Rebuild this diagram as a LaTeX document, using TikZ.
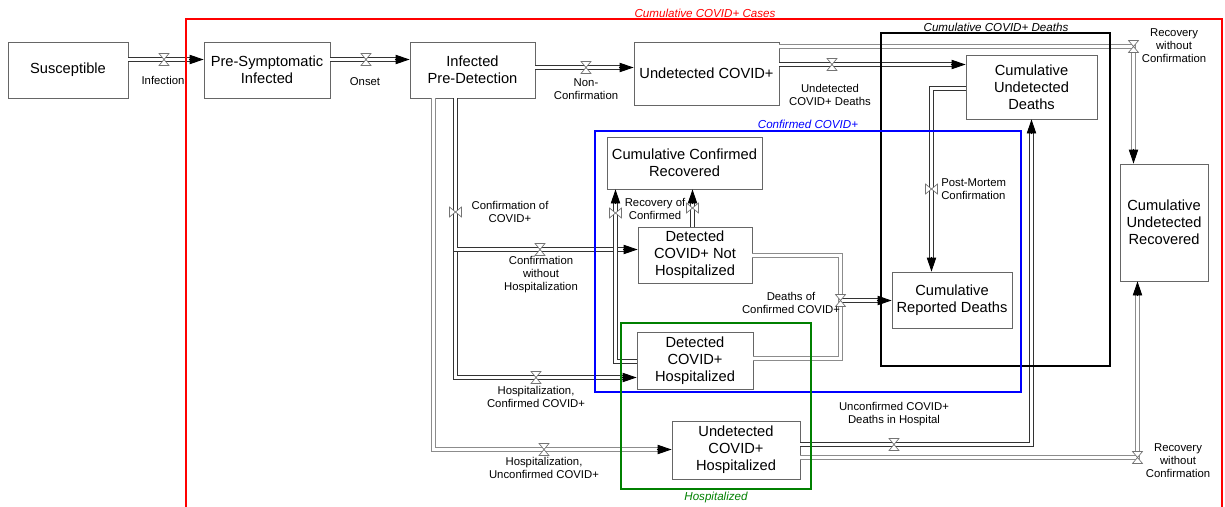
\documentclass[tikz,border=0pt]{standalone}
\usepackage{fontspec}
\setmainfont{Liberation Sans}
\usetikzlibrary{calc,arrows.meta}
\begin{document}
\begin{tikzpicture}[x=0.75pt,y=-0.75pt,
  box/.style={draw=black!60, line width=0.6pt, fill=white, align=center, inner sep=0pt, font=\fontsize{11}{12.75}\selectfont},
  lab/.style={align=center, inner sep=0pt, font=\fontsize{8.5}{9.75}\selectfont},
  grp/.style={inner sep=0pt, font=\fontsize{8.7}{10}\selectfont\itshape},
  pipe/.style={draw=black!80, double=white, double distance=2.25pt, line width=0.75pt, line join=miter},
  gpipe/.style={pipe, draw=black!45},
  pipeA/.style={pipe, shorten >=6pt},
  gpipeA/.style={gpipe, shorten >=6pt},
  tip/.style={-{Triangle[length=10.5pt,width=7pt]}, line width=0.6pt, draw=black},
  valve/.style={draw=black!55, fill=white, line width=0.5pt},
  hvalve/.pic={\draw[valve] (-5,-6) -- (5,-6) -- (-5,6) -- (5,6) -- cycle;},
  vvalve/.pic={\draw[valve] (-6,-5) -- (-6,5) -- (6,-5) -- (6,5) -- cycle;}
]
\useasboundingbox (0,0) rectangle (1225,507);

% stocks
\node[box, minimum width=90pt, minimum height=42pt] (sus) at (68,70) {Susceptible};
\node[box, minimum width=94.5pt, minimum height=42pt] (psi) at (267,70) {Pre-Symptomatic\\Infected};
\node[box, minimum width=93.75pt, minimum height=42pt] (ipd) at (472.5,70) {Infected\\Pre-Detection};
\node[box, minimum width=108.75pt, minimum height=47.25pt] (ucv) at (706.5,73.5) {Undetected COVID+};
\node[box, minimum width=98.25pt, minimum height=48pt] (cud) at (1031.5,87) {Cumulative\\Undetected\\Deaths};
\node[box, minimum width=66pt, minimum height=87.75pt] (cur) at (1164,222.5) {Cumulative\\Undetected\\Recovered};
\node[box, minimum width=90pt, minimum height=42pt] (crd) at (952,300) {Cumulative\\Reported Deaths};
\node[box, minimum width=116.25pt, minimum height=39pt] (ccr) at (684.5,163) {Cumulative Confirmed\\Recovered};
\node[box, minimum width=85.5pt, minimum height=42pt] (dcnh) at (695,255) {Detected\\COVID+ Not\\Hospitalized};
\node[box, minimum width=87pt, minimum height=42.75pt] (dch) at (695,360.5) {Detected\\COVID+\\Hospitalized};
\node[box, minimum width=96pt, minimum height=43.5pt] (uch) at (736,450) {Undetected\\COVID+\\Hospitalized};

% helper coordinates
\coordinate (rc1) at ($(cur.north)+(-30.5,0)$);
\coordinate (rc2) at ($(cur.south)+(-26.5,0)$);
\coordinate (dj) at (840.5,300.5);

% flows
\draw[pipeA] ($(sus.east)+(0,-10.5)$) -- ($(psi.west)+(0,-10.5)$);
\draw[tip] ($(psi.west)+(-15,-10.5)$) -- ($(psi.west)+(0,-10.5)$);
\draw[pipeA] ($(psi.east)+(0,-10.5)$) -- ($(ipd.west)+(0,-10.5)$);
\draw[tip] ($(ipd.west)+(-15,-10.5)$) -- ($(ipd.west)+(0,-10.5)$);
\draw[pipeA] ($(ipd.east)+(0,-2.5)$) -- ($(ucv.west)+(0,-6)$);
\draw[tip] ($(ucv.west)+(-15,-6)$) -- ($(ucv.west)+(0,-6)$);
\draw[pipeA] ($(ucv.east)+(0,-9)$) -- ($(cud.west)+(0,-22.5)$);
\draw[tip] ($(cud.west)+(-15,-22.5)$) -- ($(cud.west)+(0,-22.5)$);
\draw[gpipeA] ($(ucv.east)+(0,-27)$) -| (rc1);
\draw[tip] ($(rc1)+(0,-15)$) -- (rc1);

% from infected pre-detection downward
\draw[gpipeA] ($(ipd.south)+(-39,0)$) |- ($(uch.west)+(0,-0.5)$);
\draw[tip] ($(uch.west)+(-15,-0.5)$) -- ($(uch.west)+(0,-0.5)$);
\draw[pipeA] ($(ipd.south)+(-17,0)$) |- ($(dch.west)+(0,17)$);
\draw[tip] ($(dch.west)+(-15,17)$) -- ($(dch.west)+(0,17)$);
\draw[pipeA] ($(ipd.south)+(-17,0)$) |- ($(dcnh.west)+(0,-5.5)$);
\draw[tip] ($(dcnh.west)+(-15,-5.5)$) -- ($(dcnh.west)+(0,-5.5)$);

% recovery of confirmed
\draw[pipeA] ($(dch.west)+(0,1)$) -| ($(ccr.south)+(-69,0)$);
\draw[tip] ($(ccr.south)+(-69,15)$) -- ($(ccr.south)+(-69,0)$);
\draw[pipeA] ($(dcnh.north)+(-2.5,0)$) -- ($(ccr.south)+(8,0)$);
\draw[tip] ($(ccr.south)+(8,15)$) -- ($(ccr.south)+(8,0)$);

% deaths of confirmed
\draw[gpipe] ($(dcnh.east)+(0,0.5)$) -| (dj) |- ($(dch.east)+(0,-2)$);
\draw[pipeA] (dj) -- ($(crd.west)+(0,0.5)$);
\draw[tip] ($(crd.west)+(-15,0.5)$) -- ($(crd.west)+(0,0.5)$);

% post-mortem
\draw[pipeA] ($(cud.west)+(0,1.5)$) -| ($(crd.north)+(-20.5,0)$);
\draw[tip] ($(crd.north)+(-20.5,-15)$) -- ($(crd.north)+(-20.5,0)$);

% unconfirmed deaths in hospital
\draw[pipeA] ($(uch.east)+(0,-5.5)$) -| (cud.south);
\draw[tip] ($(cud.south)+(0,15)$) -- (cud.south);

% recovery without confirmation (bottom)
\draw[gpipeA] ($(uch.east)+(0,7.5)$) -| (rc2);
\draw[tip] ($(rc2)+(0,15)$) -- (rc2);

% valves
\pic at (164,59.5) {hvalve};
\pic at (366,59.5) {hvalve};
\pic at (586,67.5) {hvalve};
\pic at (832,64.5) {hvalve};
\pic at (1133.5,46.5) {hvalve};
\pic at (455.5,212) {vvalve};
\pic at (540,249.5) {hvalve};
\pic at (536,377.5) {hvalve};
\pic at (544,449.5) {hvalve};
\pic at (615.5,213) {vvalve};
\pic at (692.5,208) {vvalve};
\pic at (840.5,300.5) {hvalve};
\pic at (931.5,189) {vvalve};
\pic at (894,444.5) {hvalve};
\pic at (1137.5,457.5) {hvalve};

% flow labels
\node[lab] (lInf) at (163,80) {Infection};
\node[lab] (lOns) at (365,82) {Onset};
\node[lab] (lNon) at (586,89.5) {Non-\\Confirmation};
\node[lab] (lUCD) at (830,94.5) {Undetected\\COVID+ Deaths};
\node[lab] (lRWC1) at (1174,46) {Recovery\\without\\Confirmation};
\node[lab] (lCoC) at (510,212) {Confirmation of\\COVID+};
\node[lab] (lCwH) at (541,275) {Confirmation\\without\\Hospitalization};
\node[lab] (lHCC) at (536,396.5) {Hospitalization,\\Confirmed COVID+};
\node[lab] (lHUC) at (544,468) {Hospitalization,\\Unconfirmed COVID+};
\node[lab] (lRoC) at (655,208.5) {Recovery of\\Confirmed};
\node[lab, align=left, anchor=west] (lPMC) at (941,189) {Post-Mortem\\Confirmation};
\node[lab] (lDCC) at (791,302.5) {Deaths of\\Confirmed COVID+};
\node[lab] (lUDH) at (894,414.5) {Unconfirmed COVID+\\Deaths in Hospital};
\node[lab] (lRWC2) at (1178,461) {Recovery\\without\\Confirmation};

% group boxes
\draw[red, line width=1.5pt] (186,508) -- (186,19) -- (1222,19) -- (1222,508);
\draw[black, line width=1.9pt] (881,33) rectangle (1110,366);
\draw[blue, line width=1.5pt] (595,130.5) rectangle (1021,392);
\draw[green!50!black, line width=1.5pt] (621,323) rectangle (811,489);

\node[grp, text=red] (gCases) at (705,13) {Cumulative COVID+ Cases};
\node[grp] (gDeaths) at (996,27) {Cumulative COVID+ Deaths};
\node[grp, text=blue] (gConf) at (808,124) {Confirmed COVID+};
\node[grp, text=green!50!black] (gHosp) at (716,497) {Hospitalized};
\end{tikzpicture}
\end{document}
